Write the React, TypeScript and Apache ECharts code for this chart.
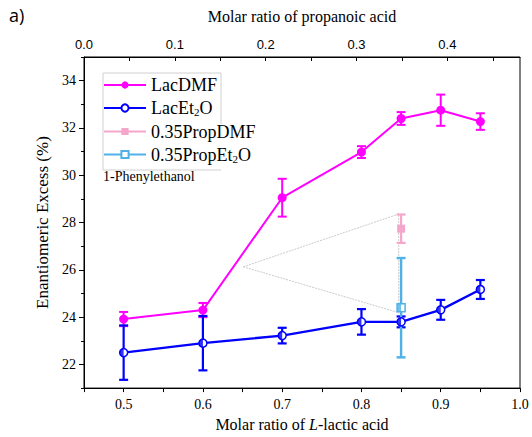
import React, { useEffect, useRef } from "react";
import * as echarts from "echarts";

// ---- data ----
const lacX = [0.5, 0.6, 0.7, 0.8, 0.85, 0.9, 0.95];
const dmfY = [23.92, 24.3, 29.05, 30.98, 32.4, 32.75, 32.27];
const dmfErr = [0.3, 0.3, 0.8, 0.25, 0.27, 0.66, 0.35];
const et2oY = [22.5, 22.9, 23.22, 23.8, 23.8, 24.31, 25.17];
const et2oErr = [1.15, 1.15, 0.33, 0.54, 0.23, 0.42, 0.4];
const propX = [0.85];
const propDmfY = [27.74];
const propDmfErr = [0.6];
const propEt2oY = [24.4];
const propEt2oErr = [2.1];
const calloutX = [0.651, 0.847, 0.847, 0.651];
const calloutY = [26.13, 28.36, 24.19, 26.13];

const bottomTicks = [0.45, 0.5, 0.55, 0.6, 0.65, 0.7, 0.75, 0.8, 0.85, 0.9, 0.95, 1.0];
const bottomLabels = [0.5, 0.6, 0.7, 0.8, 0.9, 1.0];
const topTicks = [0, 0.05, 0.1, 0.15, 0.2, 0.25, 0.3, 0.35, 0.4, 0.45];
const topLabels = [0, 0.1, 0.2, 0.3, 0.4];
const yMajor = [22, 24, 26, 28, 30, 32, 34];
const yMinor = [21, 23, 25, 27, 29, 31, 33, 35];

const MAGENTA = "#ff00ff";
const BLUE = "#0000ff";
const PINK = "#f5a6cb";
const LIGHTBLUE = "#4fb1e8";
const SERIF = "Liberation Serif";
const SANS = "Liberation Sans";

function errSeries(name: string, xs: number[], ys: number[], es: number[], color: string, width: number) {
  return {
    type: "custom",
    name,
    data: xs.map((x, i) => [x, ys[i], es[i]]),
    encode: { x: 0, y: 1 },
    silent: true,
    z: 3,
    renderItem: (params: any, api: any) => {
      const x = api.value(0);
      const y = api.value(1);
      const e = api.value(2);
      const t = api.coord([x, y + e]);
      const b = api.coord([x, y - e]);
      const h = 4.5;
      const style = { stroke: color, lineWidth: width };
      return {
        type: "group",
        children: [
          { type: "line", shape: { x1: t[0], y1: t[1], x2: b[0], y2: b[1] }, style },
          { type: "line", shape: { x1: t[0] - h, y1: t[1], x2: t[0] + h, y2: t[1] }, style },
          { type: "line", shape: { x1: b[0] - h, y1: b[1], x2: b[0] + h, y2: b[1] }, style },
        ],
      };
    },
  };
}

export default function App() {
  const ref = useRef<HTMLDivElement>(null);
  useEffect(() => {
    document.body.style.margin = "0";
    if (!ref.current) return;
    const chart = echarts.init(ref.current, undefined, { renderer: "svg" });
    const option: any = {
      animation: false,
      backgroundColor: "#fff",
      textStyle: { fontFamily: SERIF },
      grid: { left: 84, right: 12, top: 57, bottom: 42, show: true, borderColor: "#000", borderWidth: 1 },
      legend: {
        data: ["LacDMF", "LacEt2O", "0.35PropDMF", "0.35PropEt2O"],
        orient: "vertical",
        left: 100,
        top: 74,
        itemWidth: 42,
        itemHeight: 9,
        itemGap: 5,
        padding: [2, 2, 2, 3],
        formatter: (n: string) => n.replace("Et2O", "Et{s|2}O"),
        textStyle: {
          fontFamily: SERIF,
          fontSize: 18,
          color: "#000",
          rich: { s: { fontFamily: SERIF, fontSize: 11, verticalAlign: "bottom", padding: [8, 0, 0, 0] } },
        },
      },
      graphic: [
        { type: "text", left: 9, top: 6, style: { text: "a)", fontFamily: "Open Sans", fontSize: 18, fill: "#000" } },
        {
          type: "polyline",
          shape: { points: [[221, 124], [221, 73], [103, 73], [103, 170], [221, 170]] },
          style: { stroke: "#d0d0d0", lineWidth: 1, fill: null },
          z: 1,
        },
        { type: "text", left: 103, top: 169, style: { text: "1-Phenylethanol", fontFamily: SERIF, fontSize: 14, fill: "#000" } },
      ],
      xAxis: [
        {
          type: "value",
          position: "bottom",
          min: 0.45,
          max: 1.0,
          splitLine: { show: false },
          axisLine: { show: true, onZero: false, lineStyle: { color: "#000", width: 1 } },
          axisTick: { show: true, length: 4, customValues: bottomTicks, lineStyle: { color: "#000" } },
          axisLabel: {
            customValues: bottomLabels,
            formatter: (v: number) => v.toFixed(1),
            fontFamily: SERIF,
            fontSize: 14,
            color: "#000",
            margin: 9,
          },
          name: "Molar ratio of {i|L}-lactic acid",
          nameLocation: "middle",
          nameGap: 22,
          nameTextStyle: { fontFamily: SERIF, fontSize: 16, color: "#000", rich: { i: { fontStyle: "italic", fontFamily: SERIF, fontSize: 16 } } },
        },
        {
          type: "value",
          position: "top",
          min: 0,
          max: 0.48,
          splitLine: { show: false },
          axisLine: { show: true, onZero: false, lineStyle: { color: "#000", width: 1 } },
          axisTick: { show: true, inside: true, length: 4, customValues: topTicks, lineStyle: { color: "#000" } },
          axisLabel: {
            customValues: topLabels,
            formatter: (v: number) => v.toFixed(1),
            fontFamily: SANS,
            fontSize: 13,
            color: "#000",
            margin: 6,
          },
          name: "Molar ratio of propanoic acid",
          nameLocation: "middle",
          nameGap: 33,
          nameTextStyle: { fontFamily: SERIF, fontSize: 16, color: "#000" },
        },
      ],
      yAxis: [
        {
          type: "value",
          position: "left",
          min: 21,
          max: 35,
          splitLine: { show: false },
          axisLine: { show: true, onZero: false, lineStyle: { color: "#000", width: 1 } },
          axisTick: { show: true, length: 5, customValues: yMajor, lineStyle: { color: "#000" } },
          axisLabel: { customValues: yMajor, fontFamily: SERIF, fontSize: 14, color: "#000", margin: 8 },
          name: "Enantiomeric Excess (%)",
          nameLocation: "middle",
          nameGap: 29,
          nameTextStyle: { fontFamily: SERIF, fontSize: 17, color: "#000" },
        },
        {
          type: "value",
          position: "left",
          min: 21,
          max: 35,
          splitLine: { show: false },
          axisLine: { show: false },
          axisTick: { show: true, length: 3, customValues: yMinor, lineStyle: { color: "#000" } },
          axisLabel: { show: false },
        },
      ],
      series: [
        {
          type: "line",
          name: "callout",
          data: calloutX.map((x, i) => [x, calloutY[i]]),
          symbol: "none",
          silent: true,
          z: 1,
          lineStyle: { color: "#bdbdbd", width: 0.8, type: [2, 1] },
        },
        errSeries("errDmf", lacX, dmfY, dmfErr, MAGENTA, 2),
        errSeries("errEt", lacX, et2oY, et2oErr, BLUE, 2.2),
        errSeries("errPropDmf", propX, propDmfY, propDmfErr, PINK, 2.2),
        errSeries("errPropEt", propX, propEt2oY, propEt2oErr, LIGHTBLUE, 2.4),
        {
          type: "line",
          name: "LacDMF",
          data: lacX.map((x, i) => [x, dmfY[i]]),
          symbol: "circle",
          symbolSize: 9,
          z: 4,
          lineStyle: { color: MAGENTA, width: 2 },
          itemStyle: { color: MAGENTA },
        },
        {
          type: "line",
          name: "LacEt2O",
          data: lacX.map((x, i) => [x, et2oY[i]]),
          symbol: "circle",
          symbolSize: 8,
          z: 4,
          lineStyle: { color: BLUE, width: 2.4 },
          itemStyle: { color: "#fff", borderColor: BLUE, borderWidth: 1.5 },
        },
        {
          type: "scatter",
          name: "LacEt2O-half",
          data: lacX.map((x, i) => [x, et2oY[i]]),
          symbol: "path://M5,0 A5,5 0 0,0 5,10 Z",
          symbolSize: [4, 8],
          symbolOffset: [-2, 0],
          silent: true,
          z: 5,
          itemStyle: { color: BLUE },
        },
        {
          type: "line",
          name: "0.35PropDMF",
          data: propX.map((x, i) => [x, propDmfY[i]]),
          symbol: "rect",
          symbolSize: 8,
          z: 4,
          lineStyle: { color: PINK, width: 2 },
          itemStyle: { color: PINK },
        },
        {
          type: "line",
          name: "0.35PropEt2O",
          data: propX.map((x, i) => [x, propEt2oY[i]]),
          symbol: "rect",
          symbolSize: 8,
          z: 4,
          lineStyle: { color: LIGHTBLUE, width: 2 },
          itemStyle: { color: "#fff", borderColor: LIGHTBLUE, borderWidth: 1.5 },
        },
        {
          type: "scatter",
          name: "PropEt-half",
          data: propX.map((x, i) => [x, propEt2oY[i]]),
          symbol: "rect",
          symbolSize: [4, 8],
          symbolOffset: [-2, 0],
          silent: true,
          z: 5,
          itemStyle: { color: LIGHTBLUE },
        },
      ],
    };
    chart.setOption(option);
    return () => chart.dispose();
  }, []);
  return <div ref={ref} style={{ width: 532, height: 437 }} />;
}
